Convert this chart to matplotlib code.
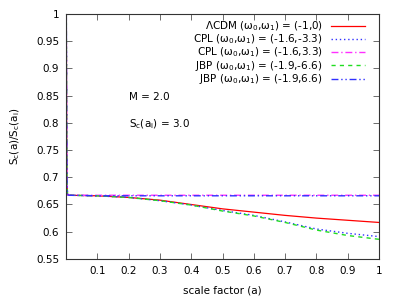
import numpy as np
import matplotlib.pyplot as plt

# scale factor samples and S_c(a)/S_c(a_i)
a = [0.001, 0.002, 0.003, 0.005, 0.01, 0.1, 0.2, 0.3, 0.4, 0.5, 0.6, 0.7, 0.8, 0.9, 1.0]
lcdm = [1.0, 0.80, 0.69, 0.668, 0.667, 0.666, 0.663, 0.658, 0.650, 0.642, 0.636, 0.630, 0.625, 0.621, 0.617]
cpl_m = [1.0, 0.80, 0.69, 0.668, 0.667, 0.666, 0.663, 0.657, 0.649, 0.639, 0.630, 0.618, 0.605, 0.597, 0.591]
cpl_p = [1.0, 0.80, 0.69, 0.668, 0.667, 0.667, 0.667, 0.667, 0.667, 0.667, 0.667, 0.667, 0.667, 0.667, 0.667]
jbp_m = [1.0, 0.80, 0.69, 0.668, 0.667, 0.666, 0.663, 0.657, 0.649, 0.638, 0.629, 0.617, 0.603, 0.593, 0.586]
jbp_p = [1.0, 0.80, 0.69, 0.668, 0.667, 0.666, 0.666, 0.666, 0.666, 0.666, 0.666, 0.666, 0.666, 0.666, 0.666]

labels = [r'$\Lambda$CDM ($\omega_0$,$\omega_1$) = (-1,0)',
          r'CPL ($\omega_0$,$\omega_1$) = (-1.6,-3.3)',
          r'CPL ($\omega_0$,$\omega_1$) = (-1.6,3.3)',
          r'JBP ($\omega_0$,$\omega_1$) = (-1.9,-6.6)',
          r'JBP ($\omega_0$,$\omega_1$) = (-1.9,6.6)']

plt.rcParams['mathtext.fontset'] = 'dejavusans'
plt.rcParams['mathtext.default'] = 'regular'

fig = plt.figure(figsize=(4, 3), dpi=100)
ax = fig.add_axes([0.165, 0.137, 0.7825, 0.816])

ax.plot(a, lcdm, color='red', lw=0.9, label=labels[0])
ax.plot(a, cpl_m, color='#3030ff', lw=1.0, ls=(0, (1, 2)), label=labels[1])
ax.plot(a, cpl_p, color='#ff30ff', lw=1.0, ls=(0, (5, 2, 1, 2)), label=labels[2])
ax.plot(a, jbp_m, color='#20dd20', lw=1.0, ls=(0, (3, 3)), label=labels[3])
ax.plot(a, jbp_p, color='#3030ff', lw=1.0, ls=(0, (5, 2, 1, 2, 1, 2)), label=labels[4])

ax.set_xlim(0, 1)
ax.set_ylim(0.55, 1)
ax.set_xticks([0.1, 0.2, 0.3, 0.4, 0.5, 0.6, 0.7, 0.8, 0.9, 1])
ax.set_xticklabels(['0.1', '0.2', '0.3', '0.4', '0.5', '0.6', '0.7', '0.8', '0.9', '1'])
ax.set_yticks([0.55, 0.6, 0.65, 0.7, 0.75, 0.8, 0.85, 0.9, 0.95, 1])
ax.set_yticklabels(['0.55', '0.6', '0.65', '0.7', '0.75', '0.8', '0.85', '0.9', '0.95', '1'])
ax.tick_params(direction='in', top=True, right=True, labelsize=7.5, length=4, width=0.6,
               color='#555555', pad=5)
for s in ax.spines.values():
    s.set_linewidth(0.8)
    s.set_color('#333333')

ax.set_xlabel('scale factor (a)', fontsize=7.5, labelpad=7)
ax.set_ylabel(r'S$_c$(a)/S$_c$(a$_i$)', fontsize=7.5, labelpad=10)

ax.text(0.2, 0.848, 'M = 2.0', fontsize=7.5, va='center')
ax.text(0.2, 0.798, r'S$_c$(a$_i$) = 3.0', fontsize=7.5, va='center')

leg = ax.legend(loc='upper right', bbox_to_anchor=(0.968, 0.994), frameon=False, fontsize=7.5,
                markerfirst=False, handlelength=3.2, handletextpad=0.85, labelspacing=-0.05,
                borderaxespad=0)
for t in leg.get_texts():
    t.set_ha('right')
leg._legend_box.align = 'right'

fig.savefig('out.png', dpi=100)
